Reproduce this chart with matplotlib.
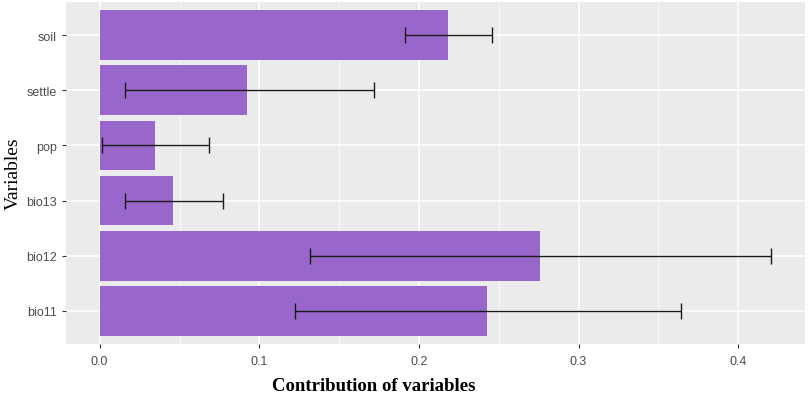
import numpy as np
import matplotlib.pyplot as plt
from matplotlib.ticker import MultipleLocator

variables = ["bio11", "bio12", "bio13", "pop", "settle", "soil"]
contribution = [0.2427, 0.276, 0.046, 0.0348, 0.0925, 0.218]
err_low = [0.1222, 0.1316, 0.016, 0.0014, 0.0156, 0.191]
err_high = [0.364, 0.4207, 0.077, 0.0684, 0.1716, 0.246]

fig = plt.figure(figsize=(8.1, 4.02), dpi=100)
ax = fig.add_axes([66 / 810, 57 / 402, (805 - 66) / 810, (345 - 3) / 402])

ax.set_facecolor("#EBEBEB")
y = np.arange(len(variables))
ax.barh(y, contribution, height=0.9, color="#9966CC", zorder=2)

contribution = np.array(contribution)
xerr = [contribution - np.array(err_low), np.array(err_high) - contribution]
ax.errorbar(contribution, y, xerr=xerr, fmt="none", ecolor="#1a1a1a",
            elinewidth=1.0, capsize=6, capthick=1.0, zorder=3)

ax.set_xlim(-0.0211, 0.4418)
ax.set_ylim(-0.6, 5.6)
ax.set_yticks(y)
ax.set_yticklabels(variables)
ax.xaxis.set_major_locator(MultipleLocator(0.1))
ax.xaxis.set_minor_locator(MultipleLocator(0.05))
ax.xaxis.set_major_formatter(lambda v, p: f"{v:.1f}")

ax.grid(which="major", color="white", linewidth=1.1, zorder=0)
ax.grid(which="minor", axis="x", color="white", linewidth=0.5, zorder=0)
ax.set_axisbelow(True)
for s in ax.spines.values():
    s.set_visible(False)

ax.tick_params(axis="both", which="major", colors="#333333", length=3,
               width=0.8, labelcolor="#4D4D4D", labelsize=9)
ax.tick_params(axis="both", which="minor", length=0)
for lab in ax.get_xticklabels() + ax.get_yticklabels():
    lab.set_fontfamily("Liberation Sans")
ax.tick_params(axis="x", pad=5)

ax.set_ylabel("Variables", fontfamily="Liberation Serif", fontsize=14,
              color="black", labelpad=3)
fig.text(374 / 810, 1 - 387 / 402, "Contribution of variables",
         fontfamily="Liberation Serif", fontweight="bold", fontsize=13.5,
         ha="center", va="center")

fig.savefig("out.png", dpi=100, facecolor="white")
